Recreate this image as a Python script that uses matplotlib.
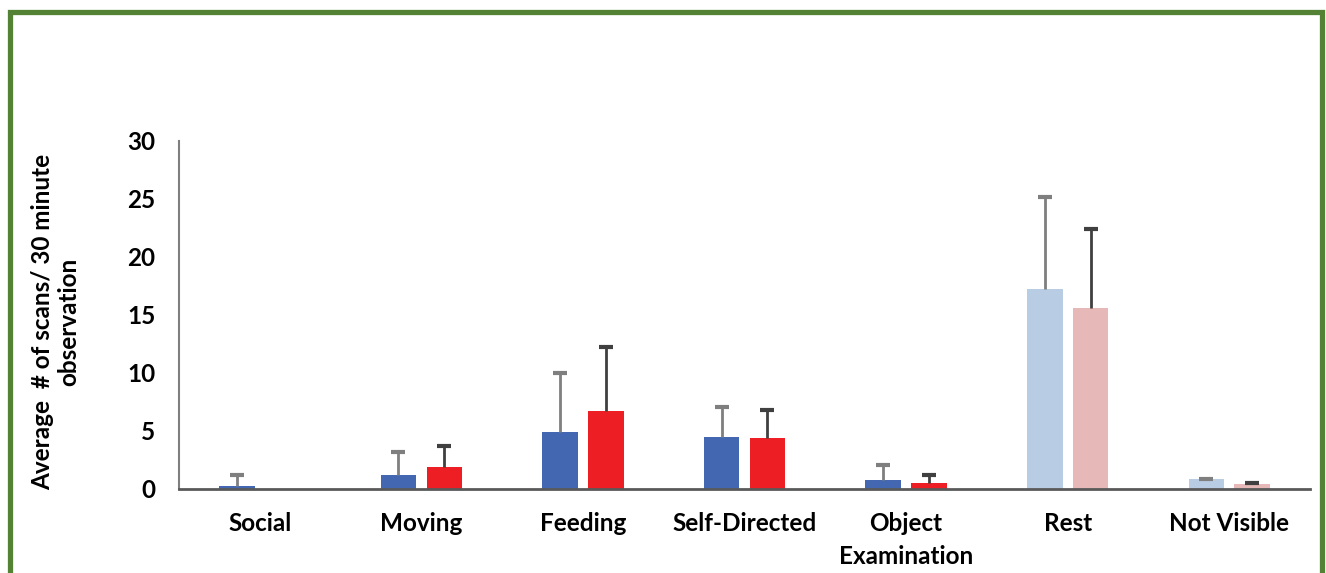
import matplotlib
matplotlib.use('Agg')
import matplotlib.pyplot as plt
import numpy as np
from matplotlib.patches import Rectangle

categories = ['Social', 'Moving', 'Feeding', 'Self-Directed', 'Object\nExamination', 'Rest', 'Not Visible']
group1 = [0.25, 1.2, 4.9, 4.5, 0.75, 17.2, 0.85]
group1_err = [0.95, 2.0, 5.1, 2.6, 1.35, 8.0, 0.05]
group2 = [0.0, 1.9, 6.7, 4.4, 0.55, 15.6, 0.45]
group2_err = [0.0, 1.8, 5.5, 2.4, 0.65, 6.8, 0.05]
colors1 = ['#4467b1'] * 5 + ['#b8cce4'] * 2
colors2 = ['#ed1f24'] * 5 + ['#e6b8b7'] * 2


def main():
    plt.rcParams['font.family'] = ['Lato', 'DejaVu Sans']
    fig = plt.figure(figsize=(13.26, 5.73), dpi=100)
    ax = fig.add_axes([0.135, 0.1466, 0.853, 0.6074])

    x = np.arange(len(categories))
    w = 0.22
    off = 0.142
    ax.bar(x - off, group1, w, color=colors1, zorder=2)
    ax.bar(x + off, group2, w, color=colors2, zorder=2)

    # upper error bars only (caps on top)
    for xs, vals, errs, col in ((x - off, group1, group1_err, '#7f7f7f'),
                                (x + off, group2, group2_err, '#404040')):
        xs = np.asarray(xs)
        vals = np.asarray(vals)
        errs = np.asarray(errs)
        m = errs > 0
        tops = vals[m] + errs[m]
        ax.vlines(xs[m], vals[m], tops, color=col, linewidth=2, zorder=3)
        ax.plot(xs[m], tops, linestyle='none', marker='_', markersize=10,
                markeredgewidth=3, color=col, zorder=3)

    ax.set_xlim(-0.5, len(categories) - 0.5)
    ax.set_ylim(0, 30)
    ax.set_yticks(range(0, 31, 5))
    ax.set_xticks(x)
    ax.set_xticklabels(categories, fontsize=17.5, fontweight='bold', linespacing=1.55,
                       va='top')
    ax.tick_params(axis='y', labelsize=17.5, length=0, pad=17)
    ax.tick_params(axis='x', length=0, pad=16.5)
    for lab in ax.get_yticklabels():
        lab.set_fontweight('bold')

    for s in ('top', 'right'):
        ax.spines[s].set_visible(False)
    ax.spines['left'].set_color('#7f7f7f')
    ax.spines['left'].set_linewidth(1.5)
    ax.spines['bottom'].set_color('#595959')
    ax.spines['bottom'].set_linewidth(2)

    ax.set_ylabel('Average  # of scans/ 30 minute\nobservation', fontsize=17.5,
                  fontweight='bold', linespacing=1.15, labelpad=34)
    ax.yaxis.label.set_y(0.48)

    # green frame around the figure
    frame = Rectangle((9.5 / 1326, -0.05), 1312 / 1326, 1 - 11.5 / 573 + 0.05,
                      transform=fig.transFigure, fill=False, edgecolor='#548235',
                      linewidth=3.8, clip_on=False)
    fig.patches.append(frame)

    fig.savefig('out.png', dpi=100)


if __name__ == '__main__':
    main()
